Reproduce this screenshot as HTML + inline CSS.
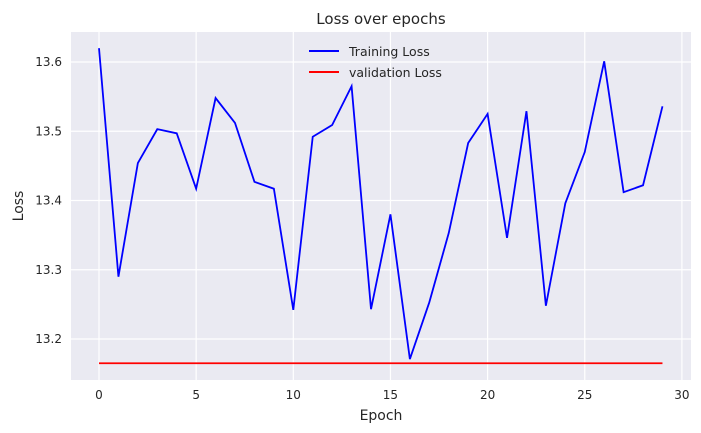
<!DOCTYPE html>
<html><head><meta charset="utf-8"><style>
body{margin:0;background:#fff;}
svg{display:block;font-family:"DejaVu Sans","Liberation Sans",sans-serif;}
</style></head><body>
<svg id="chart" width="701" height="433">
<rect x="71" y="32" width="620" height="348" fill="#eaeaf2"/>
<g id="grid"></g>
<g id="series"></g>
<text x="381" y="24" text-anchor="middle" font-size="15" fill="#262626">Loss over epochs</text>
<text x="381" y="420" text-anchor="middle" font-size="14" fill="#262626">Epoch</text>
<text x="23" y="206" text-anchor="middle" font-size="14" fill="#262626" transform="rotate(-90 23 206)">Loss</text>
<g>
<line x1="309" y1="51" x2="339" y2="51" stroke="#0000ff" stroke-width="2"/>
<text x="349" y="56" font-size="12.5" fill="#262626">Training Loss</text>
<line x1="309" y1="72" x2="339" y2="72" stroke="#ff0000" stroke-width="2"/>
<text x="349" y="77" font-size="12.5" fill="#262626">validation Loss</text>
</g>
</svg>
<script>
const epochs=[0,1,2,3,4,5,6,7,8,9,10,11,12,13,14,15,16,17,18,19,20,21,22,23,24,25,26,27,28,29];
const trainLoss=[13.620,13.290,13.454,13.503,13.497,13.417,13.548,13.512,13.427,13.417,13.242,13.492,13.509,13.565,13.243,13.380,13.171,13.253,13.353,13.483,13.525,13.346,13.529,13.248,13.396,13.470,13.601,13.412,13.422,13.536];
const valLoss=[13.165,13.165,13.165,13.165,13.165,13.165,13.165,13.165,13.165,13.165,13.165,13.165,13.165,13.165,13.165,13.165,13.165,13.165,13.165,13.165,13.165,13.165,13.165,13.165,13.165,13.165,13.165,13.165,13.165,13.165];
const xTicks=[0,5,10,15,20,25,30];
const yTicks=[13.2,13.3,13.4,13.5,13.6];
const NS="http://www.w3.org/2000/svg";
function xs(v){return 99+v*19.43;}
function ys(v){return 62+(13.6-v)*692.5;}
const grid=document.getElementById('grid');
xTicks.forEach(t=>{
 const l=document.createElementNS(NS,'line');
 l.setAttribute('x1',xs(t));l.setAttribute('x2',xs(t));l.setAttribute('y1',32);l.setAttribute('y2',380);
 l.setAttribute('stroke','#fff');l.setAttribute('stroke-width','1.2');
 
 
 grid.appendChild(l);
 const tx=document.createElementNS(NS,'text');
 tx.setAttribute('x',xs(t));tx.setAttribute('y',399);tx.setAttribute('text-anchor','middle');
 tx.setAttribute('font-size','12');tx.setAttribute('fill','#262626');tx.textContent=t;
 
 
 grid.appendChild(tx);
});
yTicks.forEach(t=>{
 const l=document.createElementNS(NS,'line');
 l.setAttribute('x1',71);l.setAttribute('x2',691);l.setAttribute('y1',ys(t));l.setAttribute('y2',ys(t));
 l.setAttribute('stroke','#fff');l.setAttribute('stroke-width','1.2');
 
 
 grid.appendChild(l);
 const tx=document.createElementNS(NS,'text');
 tx.setAttribute('x',62);tx.setAttribute('y',ys(t)+4);tx.setAttribute('text-anchor','end');
 tx.setAttribute('font-size','12');tx.setAttribute('fill','#262626');tx.textContent=t.toFixed(1);
 
 
 grid.appendChild(tx);
});
const series=document.getElementById('series');
function line(vals,color,name){
 const p=document.createElementNS(NS,'polyline');
 p.setAttribute('points',vals.map((v,i)=>xs(epochs[i])+','+ys(v)).join(' '));
 p.setAttribute('fill','none');p.setAttribute('stroke',color);p.setAttribute('stroke-width','1.8');
 
 
 series.appendChild(p);
}
line(valLoss,'#ff0000','validation-loss-line');
line(trainLoss,'#0000ff','training-loss-line');
</script>
</body></html>
